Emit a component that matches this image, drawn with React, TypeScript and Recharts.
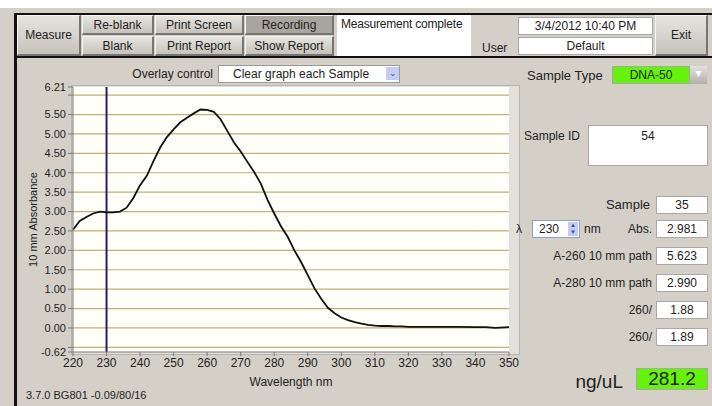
import React from "react";
import {
  LineChart,
  Line,
  XAxis,
  YAxis,
  CartesianGrid,
  ReferenceLine,
} from "recharts";

// spectrum, wavelength nm -> absorbance (10 mm)
const wavelengths = [
  220, 222, 224, 226, 228, 230, 232, 234, 236, 238, 240, 242, 244, 246, 248,
  250, 252, 254, 256, 258, 260, 262, 264, 266, 268, 270, 272, 274, 276, 278,
  280, 282, 284, 286, 288, 290, 292, 294, 296, 298, 300, 302, 304, 306, 308,
  310, 312, 314, 316, 318, 320, 325, 330, 335, 340, 343, 346, 350,
];
const absorbance = [
  2.53, 2.76, 2.86, 2.95, 3.0, 2.98, 2.98, 3.0, 3.1, 3.35, 3.68, 3.92, 4.3,
  4.65, 4.92, 5.12, 5.3, 5.42, 5.53, 5.63, 5.62, 5.57, 5.38, 5.08, 4.78, 4.55,
  4.28, 4.02, 3.72, 3.3, 2.95, 2.62, 2.35, 2.0, 1.7, 1.36, 1.02, 0.75, 0.52,
  0.38, 0.27, 0.2, 0.15, 0.11, 0.08, 0.06, 0.05, 0.05, 0.04, 0.04, 0.03, 0.03,
  0.03, 0.03, 0.02, 0.02, 0.0, 0.02,
];
const xTicks = [220, 230, 240, 250, 260, 270, 280, 290, 300, 310, 320, 330, 340, 350];
const yTicks = [-0.62, -0.5, 0, 0.5, 1, 1.5, 2, 2.5, 3, 3.5, 4, 4.5, 5, 5.5, 6, 6.21];
const unlabeledY = [-0.5, 6];
const gridValues = [-0.5, 0, 0.5, 1, 1.5, 2, 2.5, 3, 3.5, 4, 4.5, 5, 5.5, 6];
const markerWavelength = 230;

const resultLabels = ["Sample", "Abs.", "A-260 10 mm path", "A-280 10 mm path", "260/", "260/"];
const resultValues = ["35", "2.981", "5.623", "2.990", "1.88", "1.89"];
const concentration = "281.2";

const data = wavelengths.map((w, i) => ({ w, a: absorbance[i] }));

const FONT = '"Liberation Sans", Arial, sans-serif';
const GRAY = "#D4D0C8";

const abs = (left: number, top: number, w?: number, h?: number): React.CSSProperties => ({
  position: "absolute",
  left,
  top,
  width: w,
  height: h,
  boxSizing: "border-box",
});

function Button({ x, y, w, h, text, dark }: any) {
  return (
    <div
      style={{
        ...abs(x, y, w, h),
        background: dark ? "#A9A69F" : "linear-gradient(#E6E4DF, #C6C3BC)",
        borderTop: "1px solid #F4F4F4",
        borderLeft: "1px solid #F4F4F4",
        borderRight: "2px solid #77756F",
        borderBottom: "2px solid #77756F",
        display: "flex",
        alignItems: "center",
        justifyContent: "center",
        fontSize: 12,
        color: "#222",
      }}
    >
      {text}
    </div>
  );
}

function Box({ x, y, w, h, text, align, bg, size }: any) {
  return (
    <div
      style={{
        ...abs(x, y, w, h),
        background: bg || "#fff",
        border: "1px solid #A8A8A8",
        display: "flex",
        alignItems: "center",
        justifyContent: align || "center",
        paddingLeft: align ? 4 : 0,
        fontSize: size || 12,
        color: "#222",
      }}
    >
      {text}
    </div>
  );
}

function Label({ x, y, text, right, size }: any) {
  return (
    <div
      style={{
        position: "absolute",
        top: y - 8,
        left: right ? undefined : x,
        right: right ? 712 - x : undefined,
        fontSize: size || 12,
        lineHeight: "16px",
        color: "#222",
        whiteSpace: "nowrap",
      }}
    >
      {text}
    </div>
  );
}

export default function App() {
  const rowY = [196, 220, 247, 274, 301, 328];
  return (
    <div
      style={{
        position: "absolute",
        left: 0,
        top: 0,
        width: 712,
        height: 406,
        background: "#fff",
        fontFamily: FONT,
        overflow: "hidden",
      }}
    >
      <div style={{ ...abs(0, 8, 712, 398), background: GRAY }} />
      <div style={{ ...abs(14, 13, 698, 2), background: "#111" }} />
      <div style={{ ...abs(14, 56, 698, 2), background: "#111" }} />
      <div style={{ ...abs(14, 13, 3, 393), background: "#111" }} />

      <Button x={17} y={15} w={64} h={41} text="Measure" />
      <Button x={82} y={15} w={72} h={20} text="Re-blank" />
      <Button x={82} y={36} w={72} h={20} text="Blank" />
      <Button x={155} y={15} w={89} h={20} text="Print Screen" />
      <Button x={155} y={36} w={89} h={20} text="Print Report" />
      <Button x={245} y={15} w={89} h={20} text="Recording" dark />
      <Button x={245} y={36} w={89} h={20} text="Show Report" />
      <div
        style={{
          ...abs(337, 15, 134, 41),
          background: "#fff",
          fontSize: 12,
          padding: "2px 4px",
          color: "#222",
          whiteSpace: "nowrap",
          letterSpacing: -0.2,
        }}
      >
        Measurement complete
      </div>
      <Label x={482} y={48} text="User" />
      <Box x={518} y={17} w={135} h={18} text="3/4/2012  10:40 PM" />
      <Box x={518} y={37} w={135} h={18} text="Default" />
      <Button x={655} y={15} w={53} h={41} text="Exit" />

      <Label x={213} y={74} text="Overlay control" right />
      <div
        style={{
          ...abs(218, 65, 182, 18),
          background: "#fff",
          border: "1px solid #9A9A9A",
          fontSize: 12,
          paddingLeft: 14,
          lineHeight: "16px",
          color: "#222",
        }}
      >
        Clear graph each Sample
      </div>
      <div
        style={{
          ...abs(386, 67, 13, 13),
          background: "#C4CCF4",
          color: "#3A4AA0",
          fontSize: 9,
          textAlign: "center",
          lineHeight: "12px",
        }}
      >
        ⌄
      </div>

      <div style={{ ...abs(71, 85, 449, 270), border: "1px solid #B4B4B4", background: "#E2E0DA" }} />

      <div style={{ position: "absolute", left: 0, top: 0 }}>
        <LineChart
          width={712}
          height={406}
          data={data}
          margin={{ top: 87, right: 203, bottom: 18, left: 13 }}
        >
          <CartesianGrid
            vertical={false}
            horizontalValues={gridValues}
            stroke="#BDB27A"
            strokeWidth={1.2}
            fill="#FFFFF9"
          />
          <XAxis
            dataKey="w"
            type="number"
            domain={[220, 350]}
            ticks={xTicks}
            height={36}
            tickSize={4}
            tickMargin={2}
            stroke="#7A7A7A"
            tick={{ fontSize: 12, fill: "#222", fontFamily: FONT }}
            label={{
              value: "Wavelength nm",
              position: "insideBottom",
              offset: 2,
              fontSize: 12,
              fill: "#222",
              fontFamily: FONT,
            }}
          />
          <YAxis
            type="number"
            domain={[-0.62, 6.21]}
            ticks={yTicks}
            interval={0}
            width={60}
            tickSize={5}
            tickMargin={2}
            stroke="#7A7A7A"
            tick={{ fontSize: 11, fill: "#222", fontFamily: FONT }}
            tickFormatter={(v: number) => (unlabeledY.includes(v) ? "" : v.toFixed(2))}
            label={{
              value: "10 mm Absorbance",
              angle: -90,
              position: "insideLeft",
              offset: 20,
              fontSize: 11,
              fill: "#222",
              fontFamily: FONT,
              style: { textAnchor: "middle" },
            }}
          />
          <ReferenceLine x={markerWavelength} stroke="#2F1B5C" strokeWidth={2} />
          <Line
            type="linear"
            dataKey="a"
            stroke="#111"
            strokeWidth={1.8}
            dot={false}
            isAnimationActive={false}
          />
        </LineChart>
      </div>

      <Label x={26} y={395} text="3.7.0 BG801 -0.09/80/16" size={11} />

      <Label x={527} y={76} text="Sample Type" size={13} />
      <Box x={612} y={66} w={78} h={18} text="DNA-50" bg="#66F20A" />
      <div
        style={{
          ...abs(690, 66, 17, 18),
          background: "linear-gradient(#E4E2DE, #B2B0AA)",
          color: "#fff",
          fontSize: 10,
          textAlign: "center",
          lineHeight: "16px",
        }}
      >
        ▼
      </div>

      <Label x={524} y={136} text="Sample ID" size={12} />
      <div
        style={{
          ...abs(588, 125, 120, 41),
          background: "#fff",
          border: "1px solid #A8A8A8",
          textAlign: "center",
          fontSize: 12,
          paddingTop: 3,
          color: "#222",
        }}
      >
        54
      </div>

      {resultLabels.map((t, i) => (
        <React.Fragment key={i}>
          <Label x={i === 0 ? 650 : 652} y={rowY[i] + 9} text={t} right size={i === 0 ? 13 : 12} />
          <Box x={656} y={rowY[i]} w={52} h={18} text={resultValues[i]} />
        </React.Fragment>
      ))}

      <Label x={516} y={229} text="λ" size={12} />
      <div
        style={{
          ...abs(532, 220, 48, 18),
          background: "#fff",
          border: "1px solid #8AA0D0",
          fontSize: 12,
          paddingLeft: 6,
          lineHeight: "16px",
          color: "#222",
        }}
      >
        230
      </div>
      <div
        style={{
          ...abs(568, 222, 10, 14),
          background: "#C4CCF4",
          color: "#3A4AA0",
          fontSize: 6,
          textAlign: "center",
          lineHeight: "7px",
        }}
      >
        ▲<br />▼
      </div>
      <Label x={584} y={229} text="nm" size={12} />

      <Label x={623} y={382} text="ng/uL" right size={19} />
      <Box x={636} y={368} w={72} h={22} text={concentration} bg="#66F20A" size={19} />
    </div>
  );
}
